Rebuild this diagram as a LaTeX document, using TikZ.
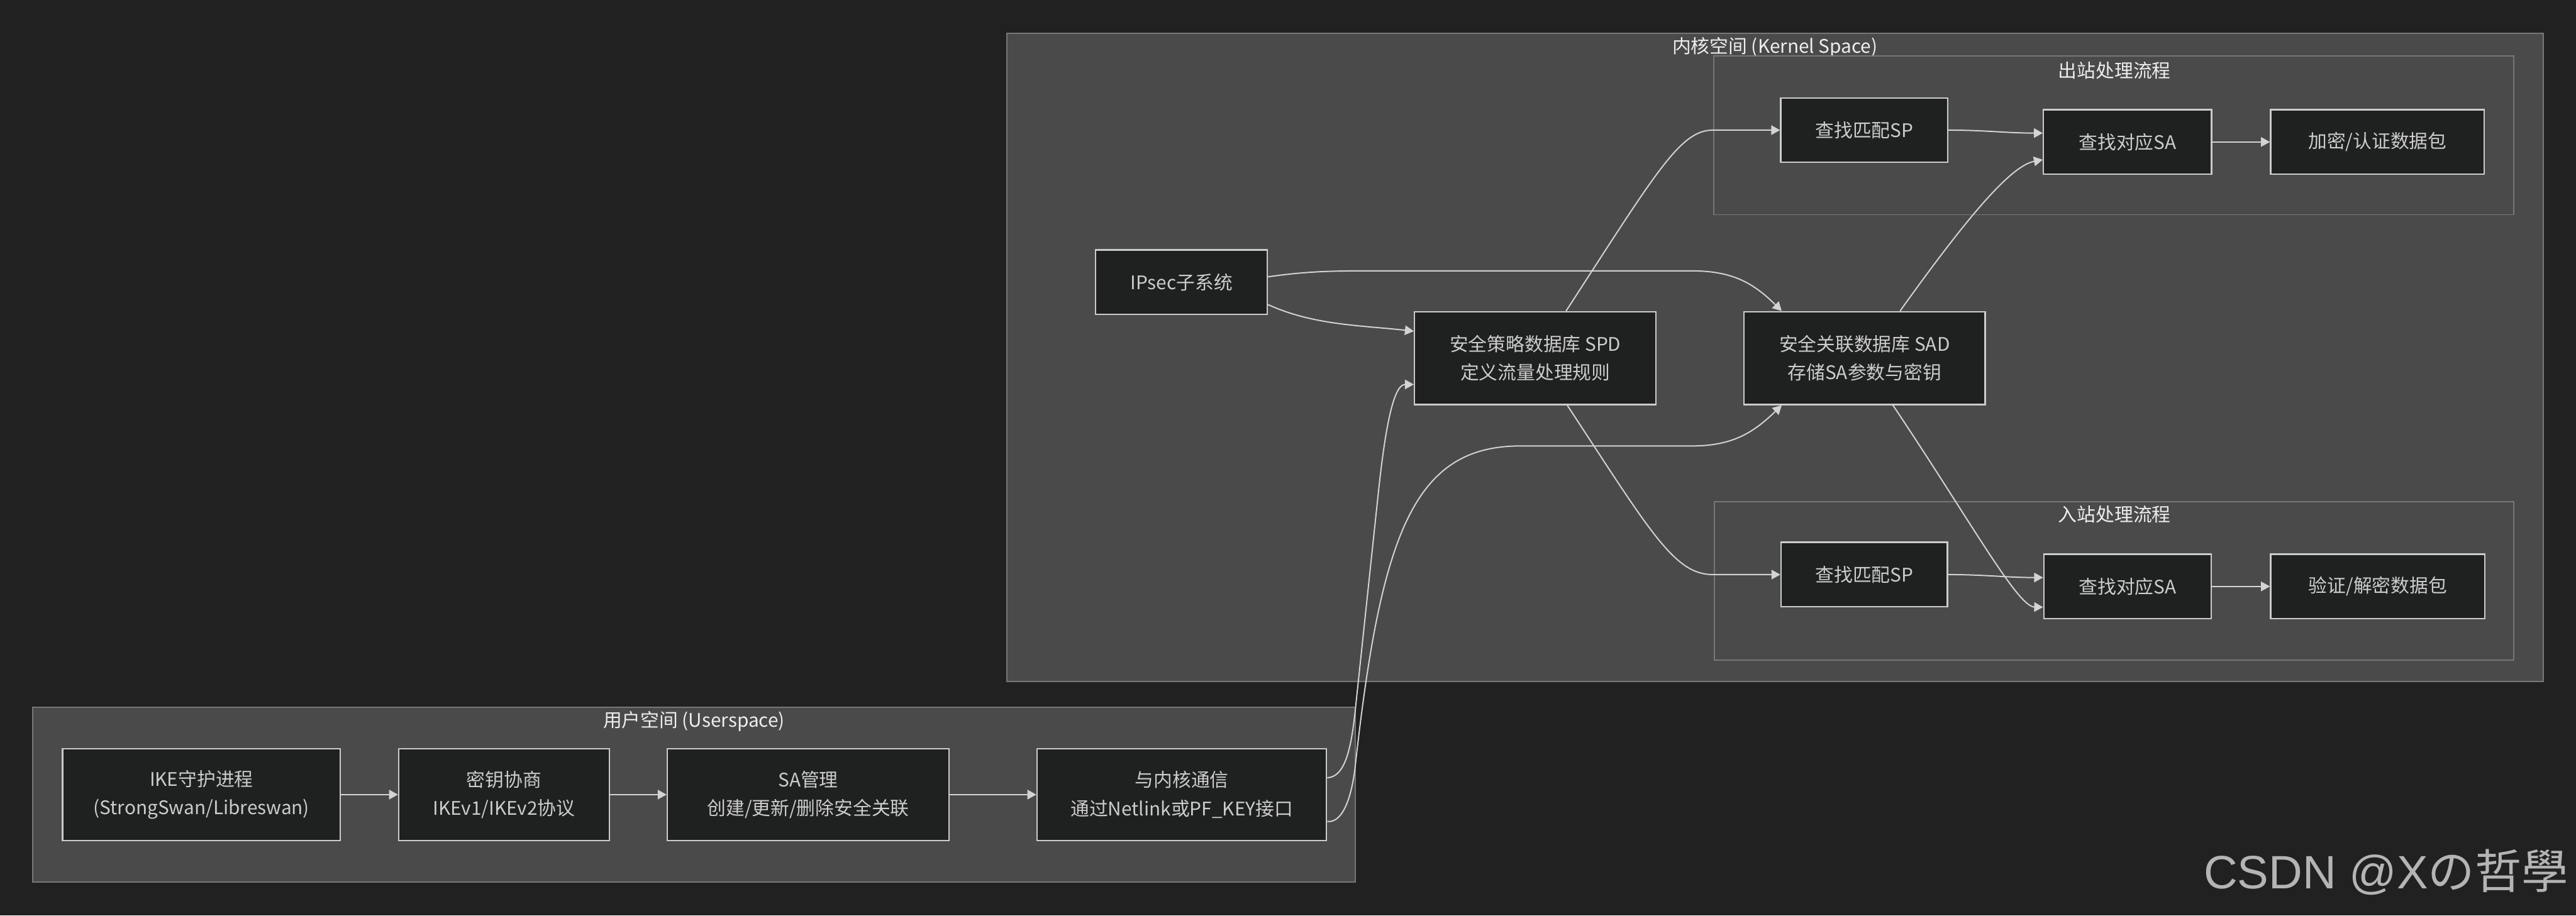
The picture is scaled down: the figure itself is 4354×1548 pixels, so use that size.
\documentclass[tikz,border=0pt]{standalone}
\usepackage{fontspec}
\setmainfont{Noto Sans CJK SC}
\newfontfamily\markfont{Liberation Sans}
\usetikzlibrary{arrows.meta}
\definecolor{bgcolor}{HTML}{212121}
\definecolor{grpfill}{HTML}{494A49}
\definecolor{grpline}{HTML}{767777}
\definecolor{blkfill}{HTML}{1F2020}
\definecolor{blkline}{HTML}{CCCCCC}
\definecolor{txtcolor}{HTML}{CCCCCC}
\definecolor{titlecolor}{HTML}{EEEEEE}
\definecolor{linecolor}{HTML}{D3D3D3}
\definecolor{markcolor}{HTML}{B4B4B4}

\begin{document}
\begin{tikzpicture}[x=0.01cm, y=-0.01cm,
  every node/.style={font=\fontsize{9}{13.7}\selectfont},
  blk/.style={draw=blkline, fill=blkfill, line width=0.7pt, text=txtcolor,
    align=center, inner sep=0pt, minimum height=1.09cm},
  grp/.style={draw=grpline, fill=grpfill, line width=0.6pt},
  grptitle/.style={text=titlecolor},
  flow/.style={draw=linecolor, line width=0.6pt,
    -{Triangle[length=0.15cm, width=0.16cm]}}]
  \fill[bgcolor] (0,0) rectangle (4354,1548);

  % clusters
  \draw[grp] (1702,56) rectangle (4299,1152);
  \node[grptitle] (ktitle) at (3000,80) {内核空间 (Kernel Space)};
  \draw[grp] (2897,95) rectangle (4249,363);
  \node[grptitle] (otitle) at (3574,119) {出站处理流程};
  \draw[grp] (2898,848) rectangle (4249,1116);
  \node[grptitle] (ititle) at (3574,870) {入站处理流程};
  \draw[grp] (55,1196) rectangle (2291,1491);
  \node[grptitle] (utitle) at (1173,1220) {用户空间 (Userspace)};

  % kernel space
  \node[blk, minimum width=2.90cm] (ipsec) at (1997,477) {IPsec子系统};
  \node[blk, minimum width=4.08cm, minimum height=1.57cm] (spd) at (2595,605.5)
       {安全策略数据库 SPD\\定义流量处理规则};
  \node[blk, minimum width=4.07cm, minimum height=1.57cm] (sad) at (3151.5,605.5)
       {安全关联数据库 SAD\\存储SA参数与密钥};
  \node[blk, minimum width=2.82cm] (osp) at (3151,220) {查找匹配SP};
  \node[blk, minimum width=2.84cm] (osa) at (3596,240) {查找对应SA};
  \node[blk, minimum width=3.61cm] (oenc) at (4018.5,240) {加密/认证数据包};
  \node[blk, minimum width=2.81cm] (isp) at (3151,971.5) {查找匹配SP};
  \node[blk, minimum width=2.83cm] (isa) at (3596,991.5) {查找对应SA};
  \node[blk, minimum width=3.62cm] (idec) at (4019,991.5) {验证/解密数据包};

  % user space
  \node[blk, minimum width=4.69cm, minimum height=1.55cm] (ike) at (340.5,1343.5)
       {IKE守护进程\\(StrongSwan/Libreswan)};
  \node[blk, minimum width=3.56cm, minimum height=1.55cm] (nego) at (852,1343.5)
       {密钥协商\\IKEv1/IKEv2协议};
  \node[blk, minimum width=4.76cm, minimum height=1.55cm] (samgr) at (1366,1343.5)
       {SA管理\\创建/更新/删除安全关联};
  \node[blk, minimum width=4.89cm, minimum height=1.55cm] (knl) at (1997.5,1343.5)
       {与内核通信\\通过Netlink或PF\_KEY接口};

  \node[anchor=base west, text=markcolor, inner sep=0pt,
        font=\fontsize{22.5}{26}\selectfont] (mark) at (3724,1503)
       {{\markfont CSDN @X}の哲學};

  % connectors
  \foreach \a/\b in {ike/nego, nego/samgr, samgr/knl, osa/oenc, isa/idec}
    \draw[flow] (\a) -- (\b);
  \draw[flow] (osp.east) to[out=0, in=180] ([yshift=0.15cm]osa.west);
  \draw[flow] (isp.east) to[out=0, in=180] ([yshift=0.15cm]isa.west);
  \draw[flow] ([yshift=-0.38cm]ipsec.east) .. controls (2220,550) and (2300,550)
       .. ([yshift=0.455cm]spd.west);
  \draw[flow] ([yshift=0.09cm]ipsec.east) .. controls (2200,460) and (2240,458)
       .. (2300,458) -- (2860,458) .. controls (2930,458) and (2965,480)
       .. ([xshift=-1.4cm]sad.north);
  \draw[flow] ([xshift=0.52cm]spd.north) .. controls (2800,290) and (2840,220)
       .. (2895,220) -- (osp.west);
  \draw[flow] ([xshift=0.54cm]spd.south) .. controls (2790,900) and (2830,971.5)
       .. (2895,971.5) -- (isp.west);
  \draw[flow] ([xshift=0.6cm]sad.north) .. controls (3330,360) and (3400,280)
       .. ([yshift=-0.3cm]osa.west);
  \draw[flow] ([xshift=0.48cm]sad.south) .. controls (3330,880) and (3410,1026)
       .. ([yshift=-0.35cm]isa.west);
  \draw[flow] ([yshift=0.285cm]knl.east) .. controls (2272,1314) and (2283,1270)
       .. (2290,1207) -- (2330,830) .. controls (2345,690) and (2360,650)
       .. ([yshift=-0.445cm]spd.west);
  \draw[flow] ([yshift=-0.455cm]knl.east) .. controls (2272,1392) and (2285,1340)
       .. (2290,1301) .. controls (2334,901) and (2390,754) .. (2570,754)
       -- (2860,754) .. controls (2930,754) and (2965,730)
       .. ([xshift=-1.4cm]sad.south);
\end{tikzpicture}
\end{document}
